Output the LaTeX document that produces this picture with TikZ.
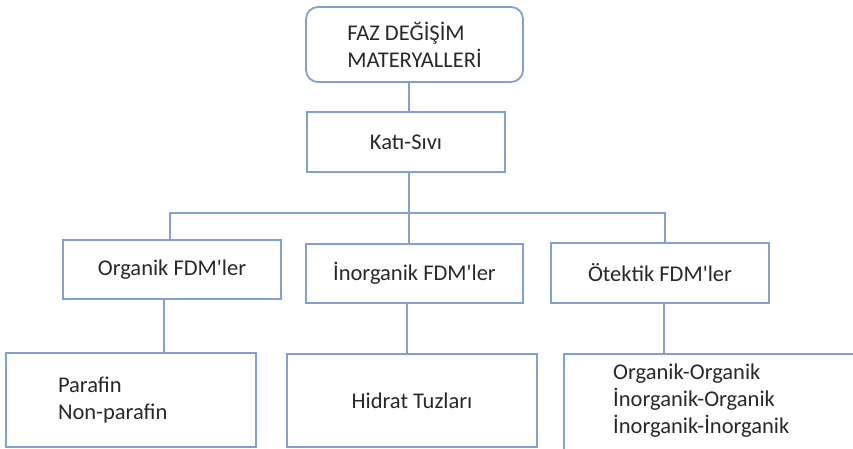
\documentclass[tikz,border=0pt]{standalone}
\usepackage{fontspec}
\setmainfont{Carlito}
\definecolor{hatmavi}{RGB}{132,160,210}
\definecolor{yazi}{RGB}{40,40,40}

\begin{document}
\begin{tikzpicture}[x=1pt,y=-1pt,
        yazikutu/.style={text=yazi,font=\fontsize{22.5}{27}\selectfont,inner sep=0pt},
        kutu/.style={yazikutu,draw=hatmavi,line width=1.8pt},
        baglanti/.style={draw=hatmavi,line width=1.8pt}]
        \useasboundingbox(0,0)rectangle(853,449);
        \clip(0,0)rectangle(853,449);

        \node[kutu,rounded corners=12pt,minimum width=217pt,minimum height=75pt,align=left](fdm)at(414.5,44.5){FAZ DEĞİŞİM\\MATERYALLERİ};
        \node[kutu,minimum width=198pt,minimum height=60pt](katisivi)at(406,142){Katı-Sıvı};

        \node[kutu,minimum width=218pt,minimum height=59pt](organik)at(172,269.5){Organik FDM\textquotesingle ler};
        \node[kutu,minimum width=217pt,minimum height=59pt](inorganik)at(414.5,273.5){İnorganik FDM\textquotesingle ler};
        \node[kutu,minimum width=218pt,minimum height=60pt](otektik)at(660,273){Ötektik FDM\textquotesingle ler};

        \node[kutu,text width=146pt,inner xsep=52pt,minimum height=94pt,align=left](parafin)at(131,400){Parafin\\Non-parafin};
        \node[kutu,minimum width=250pt,minimum height=93pt](hidrat)at(412,400.5){Hidrat Tuzları};
        \node[yazikutu,anchor=north west,text width=302pt,inner xsep=49pt,minimum height=93pt,align=left](ikili)at(564,354){Organik-Organik\\İnorganik-Organik\\İnorganik-İnorganik};
        \draw[baglanti]([yshift=-20pt]ikili.south west)--(ikili.north west)--(ikili.north east);

        % baglantilar
        \coordinate(govde)at(409,213);
        \coordinate(solkol)at(170,213);
        \coordinate(sagkol)at(665,213);
        \draw[baglanti](fdm.south -| govde)--(katisivi.north -| govde);
        \draw[baglanti](katisivi.south -| govde)--(govde)--(inorganik.north -| govde);
        \draw[baglanti](organik.north -| solkol)--(solkol)--(sagkol)--(otektik.north -| sagkol);

        \draw[baglanti]([xshift=-8pt]organik.south)--([xshift=-8pt]organik.south |- parafin.north);
        \draw[baglanti]([xshift=-7.5pt]inorganik.south)--([xshift=-7.5pt]inorganik.south |- hidrat.north);
        \draw[baglanti]([xshift=4pt]otektik.south)--([xshift=4pt]otektik.south |- ikili.north);
    \end{tikzpicture}
\end{document}
